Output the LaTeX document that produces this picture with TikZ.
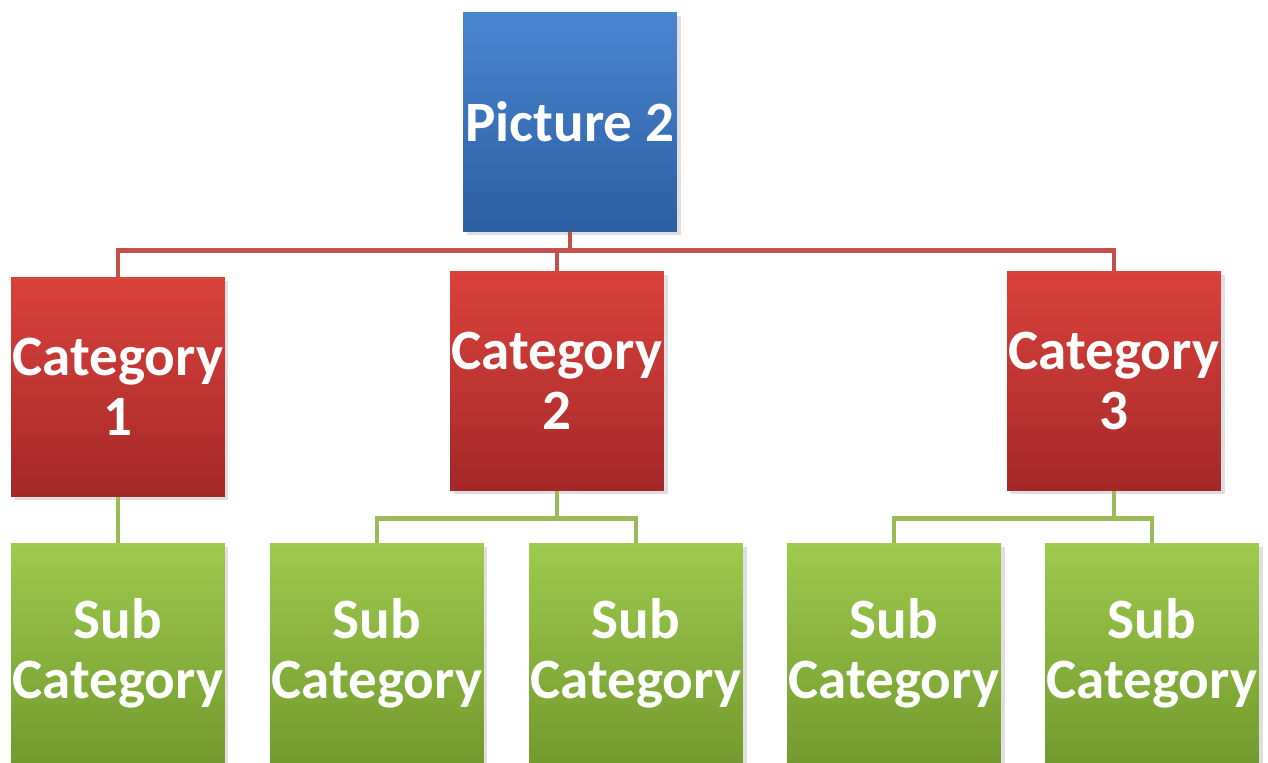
\documentclass[tikz,border=0pt]{standalone}
\usepackage{fontspec}
\setmainfont{Carlito}
\usetikzlibrary{positioning, shadows}
\definecolor{bluetop}{RGB}{74,134,208}
\definecolor{bluebot}{RGB}{44,94,162}
\definecolor{redtop}{RGB}{218,66,60}
\definecolor{redbot}{RGB}{164,40,40}
\definecolor{greentop}{RGB}{158,202,78}
\definecolor{greenbot}{RGB}{114,154,46}
\definecolor{redwire}{RGB}{196,80,77}
\definecolor{greenwire}{RGB}{155,187,89}
\tikzset{
x=0.02cm, y=-0.02cm, % one unit is one pixel of the reference
box/.style={rectangle, minimum width=4.28cm, minimum height=4.4cm, inner sep=0pt,
  align=center, text=white, font=\fontsize{32.5}{34}\selectfont\bfseries,
  drop shadow={opacity=0.25, shadow xshift=2pt, shadow yshift=-2pt}}, % every box in the chart
topbox/.style={box, top color=bluetop, bottom color=bluebot}, % the root
catbox/.style={box, top color=redtop, bottom color=redbot}, % the categories
subbox/.style={box, top color=greentop, bottom color=greenbot}, % the sub categories
redline/.style={draw=redwire, line width=2.8pt}, % wires under the root
greenline/.style={draw=greenwire, line width=2.8pt}, % wires under the categories
}
\begin{document}
\begin{tikzpicture}
        \useasboundingbox (0,0) rectangle (1268,763);
        \node[topbox] (pic) at (570,122) {Picture 2};
        \node[catbox] (c1) at (118,387) {Category\\1};
        \node[catbox] (c2) at (557,381) {Category\\2};
        \node[catbox] (c3) at (1114,381) {Category\\3};
        \node[subbox] (s1) at (118,653) {Sub\\Category};
        \node[subbox] (s2) at (377,653) {Sub\\Category};
        \node[subbox] (s3) at (636,653) {Sub\\Category};
        \node[subbox] (s4) at (894,653) {Sub\\Category};
        \node[subbox] (s5) at (1152,653) {Sub\\Category};

        \draw[redline] (pic.south) -- ++(0,18) -| (c1.north)
        (pic.south) -- ++(0,18) -| (c2.north)
        (pic.south) -- ++(0,18) -| (c3.north);
        \draw[greenline] (c1.south) -- (s1.north)
        (c2.south) -- ++(0,27) -| (s2.north)
        (c2.south) -- ++(0,27) -| (s3.north)
        (c3.south) -- ++(0,27) -| (s4.north)
        (c3.south) -- ++(0,27) -| (s5.north);
      \end{tikzpicture}
\end{document}
